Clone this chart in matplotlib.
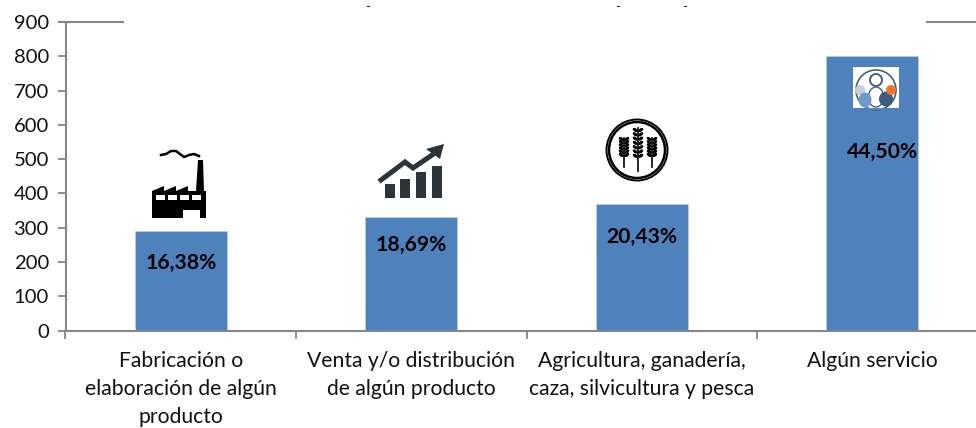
#!/usr/bin/env python3
import matplotlib
matplotlib.use("Agg")
import matplotlib.pyplot as plt
from matplotlib.patches import Rectangle, Circle, Polygon, Ellipse

categories = ["Fabricación o\nelaboración de algún\nproducto",
              "Venta y/o distribución\nde algún producto",
              "Agricultura, ganadería,\ncaza, silvicultura y pesca",
              "Algún servicio"]
values = [290, 332, 369, 802]
percent_labels = ["16,38%", "18,69%", "20,43%", "44,50%"]
label_y = [197, 249, 272, 522]
label_dx = [0.004, 0, 0, 0.043]
y_ticks = [0, 100, 200, 300, 400, 500, 600, 700, 800, 900]

W, H = 976, 428
GREY = "#868686"
BLUE = "#4F81BD"
DARK = "#2B333B"

plt.rcParams['font.family'] = ['Lato', 'DejaVu Sans']

fig = plt.figure(figsize=(W / 100, H / 100), dpi=100)

# plot area runs past the right edge of the picture, as in the reference
left, right, top, bottom = 65.5, 987.5, 22, 330.5
ax = fig.add_axes([left / W, 1 - bottom / H, (right - left) / W, (bottom - top) / H])
xs = list(range(len(values)))
ax.bar(xs, values, width=0.4, color=BLUE, edgecolor="#B9CDE5", linewidth=0.6)
ax.set_xlim(-0.5, 3.5)
ax.set_ylim(0, 900)
ax.set_yticks(y_ticks)
ax.set_xticks([-0.5, 0.5, 1.5, 2.5])
ax.set_xticklabels([])
ax.tick_params(axis='y', length=5.5, width=1.3, color=GREY, labelsize=14.6, pad=6.5, labelcolor="#111111")
ax.tick_params(axis='x', length=6, width=1.3, color=GREY)
for s in ['top', 'right']:
    ax.spines[s].set_visible(False)
for s in ['left', 'bottom']:
    ax.spines[s].set_color(GREY)
    ax.spines[s].set_linewidth(1.5)

# category names go under the bars, the ticks sit between them
for x, name in zip(xs, categories):
    ax.annotate(name, (x, 0), xytext=(0, -15), textcoords='offset points', ha='center', va='top',
                fontsize=15.2, linespacing=1.5, color="#111111", annotation_clip=False)

for x, lab, ly, dx in zip(xs, percent_labels, label_y, label_dx):
    ax.text(x + dx, ly, lab, ha='center', va='center', fontsize=15.2, fontweight='bold', color="black")

# overlay in pixel coordinates for the pasted icons and the cut-off frame
ov = fig.add_axes([0, 0, 1, 1], facecolor='none')
ov.set_xlim(0, W)
ov.set_ylim(H, 0)
ov.axis('off')

# top line is hidden by the title box in the middle
ov.plot([58, 124], [22, 22], color=GREY, lw=1.5, solid_capstyle='butt')
ov.plot([926, 976], [22, 22], color=GREY, lw=1.5, solid_capstyle='butt')

# remains of the cropped title
for px in [368, 618, 685]:
    ov.add_patch(Rectangle((px - 1.5, 5.5), 3, 1.5, color="#222244", lw=0))

# factory
ov.add_patch(Polygon([(152, 218), (152, 191), (164, 186), (164, 191), (176, 186), (176, 191),
                      (188, 186), (188, 191), (196, 191), (198, 160), (203, 160), (204, 191),
                      (206, 191), (206, 218), (200, 218), (200, 210), (183, 210), (183, 218)],
                     color="black", lw=0))
for wx in [156, 168, 180, 192]:
    ov.add_patch(Rectangle((wx, 195), 9, 4.5, color="white", lw=0))
ov.plot([161, 166, 171, 176, 180, 184, 189, 194, 199],
        [155, 154, 151, 151, 154, 157, 155, 154, 156], color="black", lw=1.8)

# growth chart
for bx, by in [(385, 184), (400, 179), (416, 172), (432, 166)]:
    ov.add_patch(Rectangle((bx, by), 9.5, 198 - by, color=DARK, lw=0))
ov.plot([381, 405, 413, 435], [180, 162, 168, 153], color=DARK, lw=3.6, solid_joinstyle='miter')
ov.add_patch(Polygon([(444, 144), (440, 159), (426, 149)], color=DARK, lw=0))

# wheat badge
ov.add_patch(Circle((637, 150), 30.5, fill=False, ec="black", lw=1.4))
ov.add_patch(Circle((637, 150), 28, fill=False, ec="black", lw=1.8))
for cx, y0, y1, n in [(638, 128, 171, 7), (624, 138, 167, 6), (652, 138, 167, 6)]:
    ov.plot([cx, cx], [y0, y1], color="black", lw=1.2)
    for i in range(n):
        gy = y0 + 2 + i * 4.3 if n == 7 else y0 + 1 + i * 3.2
        ov.add_patch(Ellipse((cx - 2.8, gy), 5.5, 3.2, angle=35, color="black", lw=0))
        ov.add_patch(Ellipse((cx + 2.8, gy), 5.5, 3.2, angle=-35, color="black", lw=0))

# people icon on white tile
ov.add_patch(Rectangle((853, 67), 46, 41, color="white", lw=0))
ov.add_patch(Circle((876, 90), 20, fill=False, ec="#44607F", lw=1.2))
ov.add_patch(Circle((876, 80), 6, fill=False, ec="#44607F", lw=1.4))
ov.add_patch(Ellipse((876, 97), 15, 20, fill=False, ec="#44607F", lw=1))
ov.add_patch(Circle((860, 90), 5, color="#C5CDD8", lw=0))
ov.add_patch(Ellipse((865, 100), 13, 15, color="#6C9BCB", lw=0))
ov.add_patch(Ellipse((886, 99), 14, 15, color="#3E5C7E", lw=0))
ov.add_patch(Circle((891, 90), 5, color="#F0782A", lw=0))
ov.add_patch(Rectangle((853, 108), 46, 2, color=BLUE, lw=0))

fig.savefig("out.png", dpi=100)
